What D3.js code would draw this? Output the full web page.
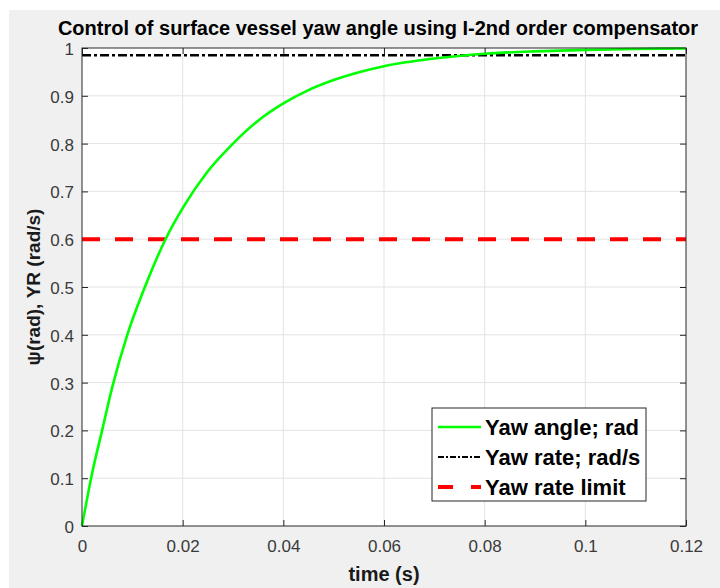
<!DOCTYPE html>
<html>
<head>
<meta charset="utf-8">
<script src="https://cdn.jsdelivr.net/npm/d3@7"></script>
<style>
  html, body { margin: 0; padding: 0; background: #ffffff; }
  svg { display: block; font-family: "Liberation Sans", Arial, Helvetica, sans-serif; }
</style>
</head>
<body>
<div id="chart"></div>
<script>
// Daten
const timeS   = [0, 0.002, 0.004, 0.006, 0.009, 0.0125, 0.0166, 0.02, 0.025, 0.03, 0.035,
                 0.04, 0.045, 0.05, 0.06, 0.07, 0.08, 0.09, 0.1, 0.11, 0.12];
const yawRad  = [0, 0.11, 0.2, 0.29, 0.4, 0.5, 0.6, 0.665, 0.742, 0.8, 0.848,
                 0.884, 0.912, 0.933, 0.962, 0.978, 0.988, 0.993, 0.996, 0.998, 0.999];
const yawRate = 0.985;   // konstante Linie
const rateLimit = 0.6;

const xTicks = [0, 0.02, 0.04, 0.06, 0.08, 0.1, 0.12];
const xTickLabels = ["0", "0.02", "0.04", "0.06", "0.08", "0.1", "0.12"];
const yTicks = [0, 0.1, 0.2, 0.3, 0.4, 0.5, 0.6, 0.7, 0.8, 0.9, 1];
const yTickLabels = ["0", "0.1", "0.2", "0.3", "0.4", "0.5", "0.6", "0.7", "0.8", "0.9", "1"];

const legendNames = ["Yaw angle; rad", "Yaw rate; rad/s", "Yaw rate limit"];

// Maße
const W = 720, H = 588;
const M = { top: 48, right: 34, bottom: 62, left: 82 };

const svg = d3.select("#chart").append("svg")
  .attr("width", W)
  .attr("height", H);

// Figure-Hintergrund
svg.append("rect")
  .attr("x", 9).attr("y", 10)
  .attr("width", W - 9).attr("height", H - 10)
  .attr("fill", "#f0f0f0");

const x = d3.scaleLinear().domain([0, 0.12]).range([M.left, W - M.right]);
const y = d3.scaleLinear().domain([0, 1]).range([H - M.bottom, M.top]);

// Plotfläche
svg.append("rect")
  .attr("x", x(0)).attr("y", y(1))
  .attr("width", x(0.12) - x(0)).attr("height", y(0) - y(1))
  .attr("fill", "#ffffff");

// Gitter
const cGrid = "#e3e3e3";
svg.append("g")
  .selectAll("line")
  .data(xTicks.slice(1, -1))
  .join("line")
  .attr("x1", d => x(d)).attr("x2", d => x(d))
  .attr("y1", y(0)).attr("y2", y(1))
  .attr("stroke", cGrid).attr("stroke-width", 1);

svg.append("g")
  .selectAll("line")
  .data(yTicks.slice(1, -1))
  .join("line")
  .attr("x1", x(0)).attr("x2", x(0.12))
  .attr("y1", d => y(d)).attr("y2", d => y(d))
  .attr("stroke", cGrid).attr("stroke-width", 1);

// Achsen (Ticks nach innen, auf allen Seiten)
const cAxis = "#262626";
const tickLen = 6;

const axB = svg.append("g")
  .attr("transform", `translate(0,${y(0)})`)
  .call(d3.axisBottom(x).tickValues(xTicks).tickSize(-tickLen).tickPadding(14)
    .tickFormat((d, i) => xTickLabels[i]));
const axT = svg.append("g")
  .attr("transform", `translate(0,${y(1)})`)
  .call(d3.axisTop(x).tickValues(xTicks).tickSize(-tickLen).tickFormat(""));
const axL = svg.append("g")
  .attr("transform", `translate(${x(0)},0)`)
  .call(d3.axisLeft(y).tickValues(yTicks).tickSize(-tickLen).tickPadding(8)
    .tickFormat((d, i) => yTickLabels[i]));
const axR = svg.append("g")
  .attr("transform", `translate(${x(0.12)},0)`)
  .call(d3.axisRight(y).tickValues(yTicks).tickSize(-tickLen).tickFormat(""));

[axB, axT, axL, axR].forEach(g => {
  g.select(".domain").remove();
  g.selectAll(".tick line").attr("stroke", cAxis).attr("stroke-width", 1);
  g.selectAll(".tick text")
    .style("font-family", '"Liberation Sans", Arial, sans-serif')
    .style("font-size", "17px")
    .style("fill", "#3a3a3a");
});
axB.selectAll(".tick text").attr("dy", "0.71em");
axL.selectAll(".tick text").attr("dy", "0.38em");

// Linien
const line = d3.line()
  .x((d, i) => x(timeS[i]))
  .y(d => y(d))
  .curve(d3.curveMonotoneX);

svg.append("line")
  .attr("x1", x(0)).attr("x2", x(0.12))
  .attr("y1", y(rateLimit)).attr("y2", y(rateLimit))
  .attr("stroke", "#ff0000").attr("stroke-width", 4)
  .attr("stroke-dasharray", "18,15");

svg.append("line")
  .attr("x1", x(0)).attr("x2", x(0.12))
  .attr("y1", y(yawRate)).attr("y2", y(yawRate))
  .attr("stroke", "#000000").attr("stroke-width", 2.5)
  .attr("stroke-dasharray", "9,3,3,3");

svg.append("path")
  .datum(yawRad)
  .attr("d", line)
  .attr("fill", "none")
  .attr("stroke", "#00ff00")
  .attr("stroke-width", 2.6);

// Rahmen
svg.append("rect")
  .attr("x", x(0)).attr("y", y(1))
  .attr("width", x(0.12) - x(0)).attr("height", y(0) - y(1))
  .attr("fill", "none")
  .attr("stroke", cAxis).attr("stroke-width", 1);

// Titel + Achsenbeschriftungen
svg.append("text")
  .attr("x", 378).attr("y", 35)
  .attr("text-anchor", "middle")
  .style("font-size", "20px").style("font-weight", "700")
  .style("fill", "#000")
  .text("Control of surface vessel yaw angle using I-2nd order compensator");

svg.append("text")
  .attr("x", (x(0) + x(0.12)) / 2).attr("y", 581)
  .attr("text-anchor", "middle")
  .style("font-size", "20px").style("font-weight", "700")
  .style("fill", "#1a1a1a")
  .text("time (s)");

svg.append("text")
  .attr("transform", `translate(40,${(y(0) + y(1)) / 2}) rotate(-90)`)
  .attr("text-anchor", "middle")
  .style("font-size", "19px").style("font-weight", "700")
  .style("fill", "#1a1a1a")
  .text("ψ(rad), YR (rad/s)");

// Legende
const lg = { x: 432, y: 408, w: 214, h: 93 };
const gLeg = svg.append("g");
gLeg.append("rect")
  .attr("x", lg.x).attr("y", lg.y)
  .attr("width", lg.w).attr("height", lg.h)
  .attr("fill", "#ffffff")
  .attr("stroke", cAxis).attr("stroke-width", 1);

const legStyles = [
  { color: "#00ff00", width: 2.6, dash: null },
  { color: "#000000", width: 2, dash: "6,2,2,2" },
  { color: "#ff0000", width: 4, dash: "15,18" }
];

legendNames.forEach((name, i) => {
  const cy = lg.y + 19 + i * 30;
  const s = legStyles[i];
  gLeg.append("line")
    .attr("x1", lg.x + 6).attr("x2", lg.x + 49)
    .attr("y1", cy).attr("y2", cy)
    .attr("stroke", s.color).attr("stroke-width", s.width)
    .attr("stroke-dasharray", s.dash);
  gLeg.append("text")
    .attr("x", lg.x + 53).attr("y", cy + 7.5)
    .style("font-size", "22px").style("font-weight", "700")
    .style("fill", "#000")
    .text(name);
});
</script>
</body>
</html>
